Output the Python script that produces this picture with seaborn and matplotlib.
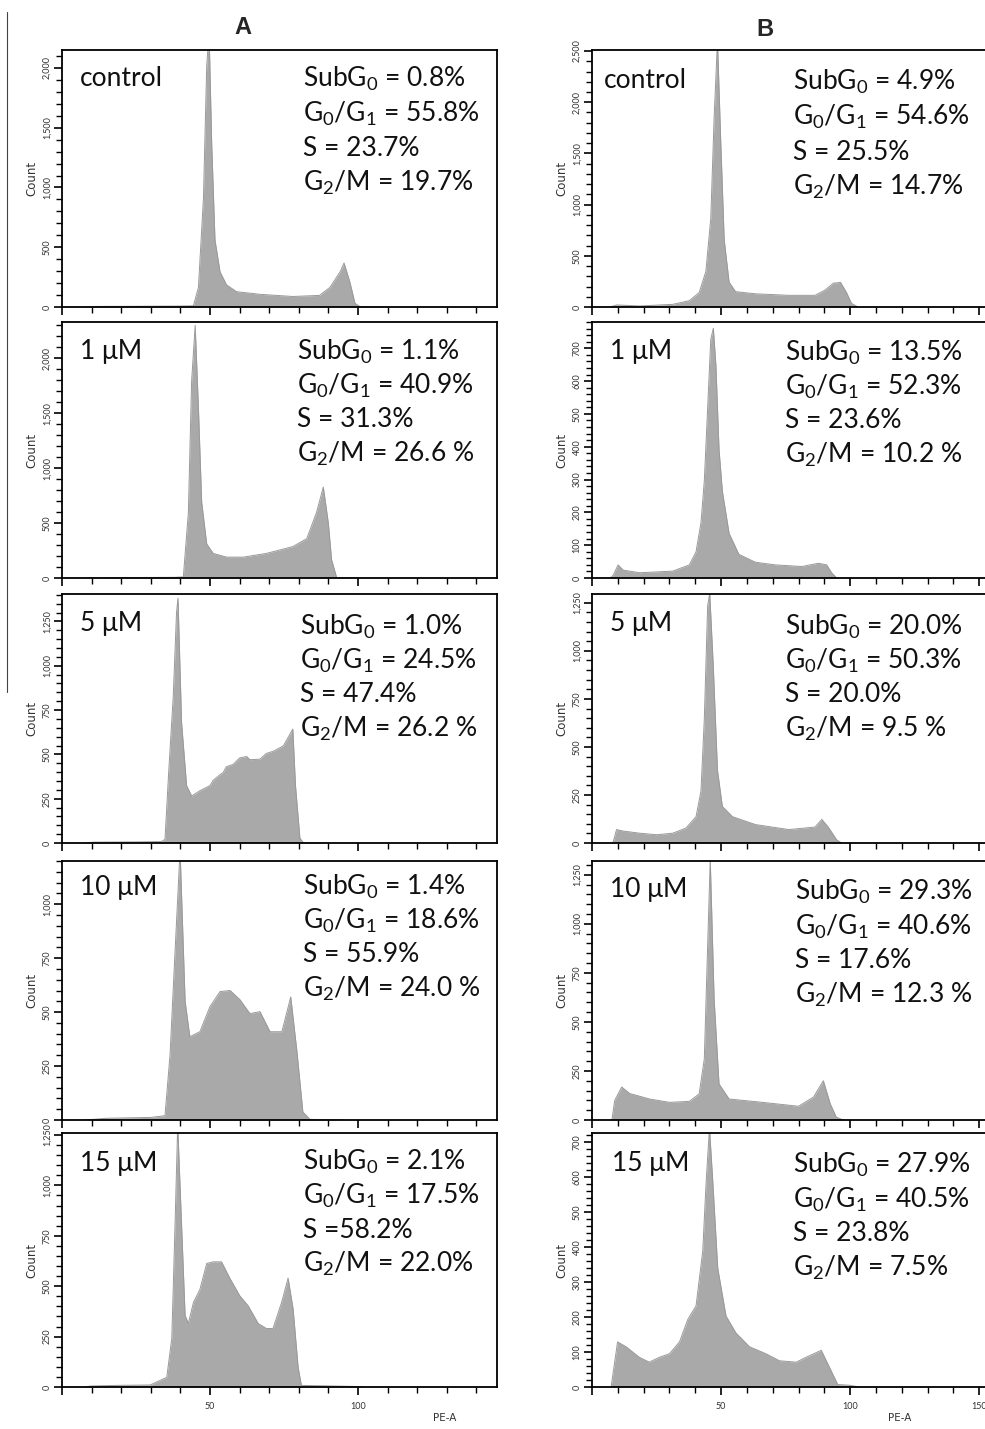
#--> Importing required libraries
import numpy as np
import pandas as pd
import matplotlib
matplotlib.use("Agg")
import matplotlib.pyplot as plt
from matplotlib.ticker import MultipleLocator, FuncFormatter
from matplotlib.lines import Line2D
import seaborn as sns

##--> Data (PE-A channel vs count) <--##
#-> Column A
a_ctrl_pe = [8, 12, 25, 40, 44.4, 46.1, 47.8, 48.9, 49.7, 50.6, 51.7, 53.4, 55.6, 59, 67, 78, 87, 90.5, 94, 95.3, 97.3, 99, 100.7, 110]
a_ctrl_ct = [0, 5, 6, 8, 10, 163, 913, 2015, 2300, 1354, 560, 295, 185, 128, 106, 88, 97, 163, 295, 368, 207, 31, 3, 0]

a_1_pe = [8, 20, 38, 41, 42.7, 43.8, 45, 46.1, 47.2, 48.9, 51.1, 55.6, 61.3, 69.1, 78, 82.7, 86, 88.3, 90, 91.1, 92.8, 100]
a_1_ct = [0, 4, 6, 10, 596, 1790, 2300, 1550, 690, 310, 224, 190, 190, 224, 286, 358, 596, 828, 500, 167, 5, 0]

a_5_pe = [8, 10.6, 25, 33.5, 34.8, 36, 37.6, 38.7, 39.2, 40.4, 42.1, 43.8, 46.6, 50, 51.1, 53, 54.5, 55.5, 57.9, 60, 62.4, 63.5, 66.9, 69, 71.4, 74.8, 78, 78.9, 80.4, 81.5, 90]
a_5_ct = [0, 5, 6, 8, 20, 384, 830, 1300, 1382, 681, 324, 265, 295, 324, 354, 380, 399, 430, 444, 480, 488, 470, 473, 505, 518, 548, 643, 324, 27, 3, 0]

a_10_pe = [8, 15, 30, 34.8, 36.5, 38.2, 39.9, 41.6, 43.2, 46.6, 50, 53.4, 56.8, 60.1, 63.5, 66.9, 70.3, 74.3, 77.3, 79.4, 81.4, 83.8, 95]
a_10_ct = [0, 8, 12, 20, 300, 780, 1250, 550, 386, 409, 525, 595, 600, 558, 493, 502, 409, 409, 570, 316, 37, 3, 0]

a_15_pe = [8, 9.6, 18.5, 29.8, 35.4, 37.1, 38.2, 39.1, 40.4, 41.6, 42.7, 44.4, 46.6, 48.9, 51.1, 53.9, 56.7, 60.1, 62.9, 66.3, 69.1, 71.3, 74.2, 76.4, 78.1, 79.8, 80.9, 91.6, 98.3, 102]
a_15_ct = [0, 5, 8, 10, 48, 242, 806, 1300, 806, 355, 315, 419, 484, 613, 621, 621, 540, 452, 403, 315, 290, 290, 419, 540, 387, 97, 8, 5, 3, 0]

#-> Column B
b_ctrl_pe = [7, 9.5, 18.5, 31.3, 37.7, 41.5, 44.1, 46, 47.3, 48.6, 49.9, 51.2, 53.1, 55.6, 63.3, 76.2, 86.4, 90.3, 93.5, 96.3, 98.6, 100.5, 103]
b_ctrl_ct = [0, 20, 10, 26, 62, 140, 347, 864, 1847, 2600, 1590, 657, 243, 150, 129, 114, 114, 166, 233, 240, 140, 36, 0]

b_1_pe = [7, 8.2, 10.1, 12.1, 18.5, 31.3, 37.7, 40.3, 42.2, 43.5, 44.8, 46, 47, 48, 49.2, 50.5, 53.1, 56.9, 63.3, 71, 81.3, 87.7, 90.9, 92.8, 94.8]
b_1_ct = [0, 8, 40, 24, 16, 21, 40, 80, 168, 296, 519, 727, 761, 647, 392, 264, 136, 72, 48, 40, 35, 45, 40, 16, 0]

b_5_pe = [7, 8.2, 9.5, 12.1, 18.5, 25, 31.3, 36.4, 40.3, 42.2, 43.5, 44.8, 45.6, 47, 48.6, 50.5, 54.4, 63.3, 76.2, 86.4, 89, 91.5, 94.8, 96.7]
b_5_ct = [0, 5, 70, 62, 51, 43, 51, 78, 137, 270, 645, 1235, 1300, 913, 378, 190, 137, 96, 70, 83, 123, 83, 16, 0]

b_10_pe = [7.7, 8.8, 11.5, 14.6, 22.3, 30, 37.7, 41.5, 43.5, 44.6, 45.8, 47.3, 49.2, 53.1, 64.6, 80, 85.8, 89.6, 92.3, 94.6, 97.3]
b_10_ct = [0, 100, 168, 135, 107, 90, 95, 133, 311, 800, 1330, 617, 184, 107, 92, 70, 117, 200, 82, 15, 0]

b_15_pe = [7.4, 9.9, 13.2, 18.3, 22.2, 26.1, 30, 33.9, 37.1, 40.3, 42.9, 44.2, 45.5, 46.8, 48.7, 51.9, 55.8, 61, 67.4, 72.6, 79.1, 82.9, 88.8, 92, 95.2, 99.7, 103.6]
b_15_ct = [0, 129, 115, 85, 71, 85, 95, 129, 193, 232, 389, 585, 740, 585, 340, 203, 154, 115, 95, 75, 71, 85, 105, 56, 7, 5, 0]

#-> Panel labels and cell-cycle percentages
doses = ["control", "1 \u03bcM", "5 \u03bcM", "10 \u03bcM", "15 \u03bcM"]
stats_a = [
    ["SubG$_\\mathregular{0}$ = 0.8%", "G$_\\mathregular{0}$/G$_\\mathregular{1}$ = 55.8%", "S = 23.7%", "G$_\\mathregular{2}$/M = 19.7%"],
    ["SubG$_\\mathregular{0}$ = 1.1%", "G$_\\mathregular{0}$/G$_\\mathregular{1}$ = 40.9%", "S = 31.3%", "G$_\\mathregular{2}$/M = 26.6 %"],
    ["SubG$_\\mathregular{0}$ = 1.0%", "G$_\\mathregular{0}$/G$_\\mathregular{1}$ = 24.5%", "S = 47.4%", "G$_\\mathregular{2}$/M = 26.2 %"],
    ["SubG$_\\mathregular{0}$ = 1.4%", "G$_\\mathregular{0}$/G$_\\mathregular{1}$ = 18.6%", "S = 55.9%", "G$_\\mathregular{2}$/M = 24.0 %"],
    ["SubG$_\\mathregular{0}$ = 2.1%", "G$_\\mathregular{0}$/G$_\\mathregular{1}$ = 17.5%", "S =58.2%", "G$_\\mathregular{2}$/M = 22.0%"],
]
stats_b = [
    ["SubG$_\\mathregular{0}$ = 4.9%", "G$_\\mathregular{0}$/G$_\\mathregular{1}$ = 54.6%", "S = 25.5%", "G$_\\mathregular{2}$/M = 14.7%"],
    ["SubG$_\\mathregular{0}$ = 13.5%", "G$_\\mathregular{0}$/G$_\\mathregular{1}$ = 52.3%", "S = 23.6%", "G$_\\mathregular{2}$/M = 10.2 %"],
    ["SubG$_\\mathregular{0}$ = 20.0%", "G$_\\mathregular{0}$/G$_\\mathregular{1}$ = 50.3%", "S = 20.0%", "G$_\\mathregular{2}$/M = 9.5 %"],
    ["SubG$_\\mathregular{0}$ = 29.3%", "G$_\\mathregular{0}$/G$_\\mathregular{1}$ = 40.6%", "S = 17.6%", "G$_\\mathregular{2}$/M = 12.3 %"],
    ["SubG$_\\mathregular{0}$ = 27.9%", "G$_\\mathregular{0}$/G$_\\mathregular{1}$ = 40.5%", "S = 23.8%", "G$_\\mathregular{2}$/M = 7.5%"],
]

##--> Layout (pixels of the 985x1429 figure) <--##
W, H = 985, 1429
rows_px = [(50, 307), (322, 578), (594, 843), (861, 1120), (1133, 1387)]
cols_px = [(62, 497, 147), (592, 987, 153)]   # left, right, x max
#-> y max, major step, minor step for every panel
yscale_a = [(2150, 500, 100), (2330, 500, 100), (1405, 250, 50), (1200, 250, 50), (1260, 250, 50)]
yscale_b = [(2510, 500, 100), (780, 100, 20), (1296, 250, 50), (1320, 250, 50), (726, 100, 20)]
#-> text anchors: (dose x, dose y, stats x, first line y, line step)
text_a = [(80, 78, 303, 79, 34.5), (80, 352, 297, 352, 33.8), (80, 624, 300, 627, 33.8),
          (80, 888, 303, 887, 34), (80, 1163, 303, 1162, 34)]
text_b = [(604, 80, 793, 82, 35), (610, 352, 785, 353, 34), (610, 623, 785, 627, 34),
          (610, 890, 795, 892, 34.3), (612, 1163, 793, 1165, 34.3)]

panels_a = [(a_ctrl_pe, a_ctrl_ct), (a_1_pe, a_1_ct), (a_5_pe, a_5_ct), (a_10_pe, a_10_ct), (a_15_pe, a_15_ct)]
panels_b = [(b_ctrl_pe, b_ctrl_ct), (b_1_pe, b_1_ct), (b_5_pe, b_5_ct), (b_10_pe, b_10_ct), (b_15_pe, b_15_ct)]

sns.set_style("ticks")
plt.rcParams['font.family'] = ['Lato', 'DejaVu Sans']
plt.rcParams['mathtext.fontset'] = 'custom'
plt.rcParams['mathtext.rm'] = 'Lato'

fig = plt.figure(figsize=(W / 100, H / 100), dpi=100)
fill_col = '#a9a9a9'
edge_col = '#999999'
txt_size = 19

for c, (panels, yscales, texts, stats) in enumerate([(panels_a, yscale_a, text_a, stats_a),
                                                    (panels_b, yscale_b, text_b, stats_b)]):
    left, right, xmax = cols_px[c]
    for r, (top, bottom) in enumerate(rows_px):
        ax = fig.add_axes([left / W, 1 - bottom / H, (right - left) / W, (bottom - top) / H])
        ax.patch.set_alpha(0)
        df = pd.DataFrame({'PE-A': panels[r][0], 'Count': panels[r][1]})
        ax.fill_between(df['PE-A'], df['Count'], 0, color=fill_col, lw=0)
        sns.lineplot(data=df, x='PE-A', y='Count', ax=ax, color=edge_col, lw=0.7)
        ymax, major, minor = yscales[r]
        ax.set_xlim(0, xmax)
        ax.set_ylim(0, ymax)
        ax.xaxis.set_major_locator(MultipleLocator(50))
        ax.xaxis.set_minor_locator(MultipleLocator(10))
        ax.yaxis.set_major_locator(MultipleLocator(major))
        ax.yaxis.set_minor_locator(MultipleLocator(minor))
        ax.yaxis.set_major_formatter(FuncFormatter(lambda v, p: f"{int(v):,}"))
        ax.xaxis.set_major_formatter(FuncFormatter(lambda v, p: "" if v == 0 else f"{int(v)}"))
        ax.tick_params(bottom=True, left=True, top=False, right=False, which='both')
        ax.tick_params(which='major', direction='out', length=6, width=1.2, color='black')
        ax.tick_params(which='minor', direction='out', length=4, width=1.0, color='black')
        ax.tick_params(axis='y', labelsize=6.5, labelrotation=90, pad=1.5, labelcolor='#333333')
        ax.tick_params(axis='x', labelsize=6.5, pad=5, labelcolor='#333333')
        for lab in ax.get_yticklabels():
            lab.set_va('center')
        if r < 4:
            ax.set_xticklabels([])
        ax.set_xlabel('')
        ax.set_ylabel('Count', fontsize=8.5, family='DejaVu Sans', color='#333333', labelpad=3)
        for sp in ax.spines.values():
            sp.set_linewidth(1.3)
            sp.set_color('black')
        #-> dose label and percentages
        dx, dy, sx, sy, step = texts[r]
        fig.text(dx / W, 1 - dy / H, doses[r], fontsize=txt_size, va='center', ha='left', color='#111111')
        for i, line in enumerate(stats[r]):
            fig.text(sx / W, 1 - (sy + i * step) / H, line, fontsize=txt_size, va='center', ha='left', color='#111111')

#-> x axis names and column titles
fig.text(445 / W, 1 - 1418 / H, 'PE-A', fontsize=7.5, family='DejaVu Sans', ha='center', va='center', color='#333333')
fig.text(900 / W, 1 - 1418 / H, 'PE-A', fontsize=7.5, family='DejaVu Sans', ha='center', va='center', color='#333333')
fig.text(243 / W, 1 - 28 / H, 'A', fontsize=17, weight='bold', family='Liberation Sans', ha='center', va='center')
fig.text(765 / W, 1 - 30 / H, 'B', fontsize=17, weight='bold', family='Liberation Sans', ha='center', va='center')

#-> thin stray rule on the left edge of the source figure
fig.add_artist(Line2D([7 / W, 7 / W], [1 - 12 / H, 1 - 692 / H], color='#444444', lw=0.8))

fig.savefig('out.png', dpi=100, facecolor='white')
